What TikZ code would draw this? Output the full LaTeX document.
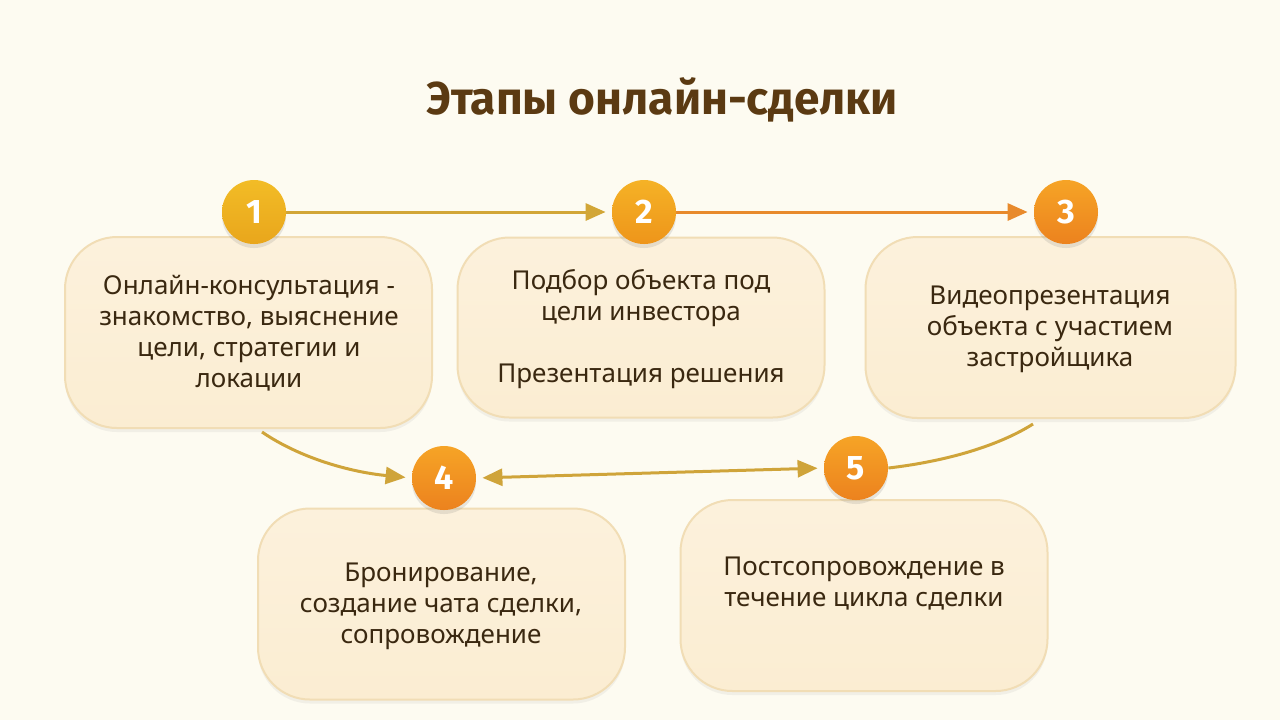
\documentclass[tikz,border=0pt]{standalone}
\usepackage{fontspec}
\setmainfont{Noto Sans}
\newfontfamily\titlefont{Fira Sans}
\usetikzlibrary{arrows.meta,shadows,calc}
\definecolor{bg}{HTML}{FDFBF1}
\definecolor{boxfill}{HTML}{FBEDD2}
\definecolor{boxfilltop}{HTML}{FCF1DC}
\definecolor{boxline}{HTML}{F1DDB5}
\definecolor{titlecol}{HTML}{5B3A12}
\definecolor{textcol}{HTML}{3A2810}
\definecolor{gold}{HTML}{D2A637}
\definecolor{orangeline}{HTML}{E88A2C}
\definecolor{curvecol}{HTML}{CFA43A}
\definecolor{yA}{HTML}{F2BC26}
\definecolor{yB}{HTML}{E9A61C}
\definecolor{oA}{HTML}{F5B226}
\definecolor{oB}{HTML}{EE951A}
\definecolor{rA}{HTML}{F6A426}
\definecolor{rB}{HTML}{EC821E}
\tikzset{
  stagebox/.style={draw=boxline, line width=1pt, rounded corners=26pt,
    top color=boxfilltop, bottom color=boxfill,
    minimum width=183.5pt, minimum height=95.5pt,
    drop shadow={shadow xshift=0pt, shadow yshift=-2pt, opacity=0.08, fill=black!60}},
  boxtext/.style={text=textcol, align=center, font=\fontsize{13}{15.5}\selectfont},
  numcircle/.style={circle, minimum size=32pt, inner sep=0pt, text=white,
    font=\titlefont\fontsize{17}{20}\selectfont\bfseries,
    drop shadow={shadow xshift=0pt, shadow yshift=-2pt, opacity=0.15, fill=black!60}},
  conn/.style={line width=1.5pt, -{Triangle[length=10pt,width=8.5pt]}},
}
\begin{document}
\begin{tikzpicture}[x=0.5pt,y=-0.5pt]
\useasboundingbox (0,0) rectangle (1280,720);
\fill[bg] (0,0) rectangle (1280,720);

\node[text=titlecol, font=\titlefont\fontsize{23}{27}\selectfont\bfseries] (title) at (662,100) {Этапы онлайн-сделки};

% boxes
\node[stagebox] (b1) at (248.5,332.5) {};
\node[stagebox, minimum height=90pt] (b2) at (641,327.5) {};
\node[stagebox, minimum width=185pt, minimum height=90.5pt] (b3) at (1050.5,327.5) {};
\node[stagebox] (b4) at (441.5,604) {};
\node[stagebox] (b5) at (864,595.5) {};

% texts
\node[boxtext] (t1) at (249,333) {Онлайн-консультация -\\знакомство, выяснение\\цели, стратегии и\\локации};
\node[boxtext] (t2) at (641,329.5) {Подбор объекта под\\цели инвестора\\[15.5pt]Презентация решения};
\node[boxtext] (t3) at (1050,329) {Видеопрезентация\\объекта с участием\\застройщика};
\node[boxtext] (t4) at (441,606) {Бронирование,\\создание чата сделки,\\сопровождение};
\node[boxtext] (t5) at (864,583.5) {Постсопровождение в\\течение цикла сделки};

% circles
\node[numcircle, top color=yA, bottom color=yB] (c1) at (254,212) {1};
\node[numcircle, top color=oA, bottom color=oB] (c2) at (644,212) {2};
\node[numcircle, top color=rA, bottom color=rB] (c3) at (1066,212) {3};
\node[numcircle, top color=rA, bottom color=rB] (c4) at (444,478) {4};
\node[numcircle, top color=rA, bottom color=rB] (c5) at (856,468) {5};

% connectors
\coordinate (s1) at (262,432);
\coordinate (s3) at (1033,424);
\draw[conn, gold, shorten >=3pt] (c1) -- (c2);
\draw[conn, orangeline, shorten >=3pt] (c2) -- (c3);
\draw[conn, curvecol, shorten >=3pt] (s1) .. controls (300,458) and (350,472) .. (c4.west);
\draw[line width=1.5pt, curvecol, {Triangle[length=10pt,width=8.5pt]}-{Triangle[length=10pt,width=8.5pt]}, shorten <=3pt, shorten >=3pt] (c4.east) -- (c5.west);
\draw[line width=1.5pt, curvecol] (c5.east) .. controls (940,462) and (995,448) .. (s3);
\end{tikzpicture}
\end{document}
